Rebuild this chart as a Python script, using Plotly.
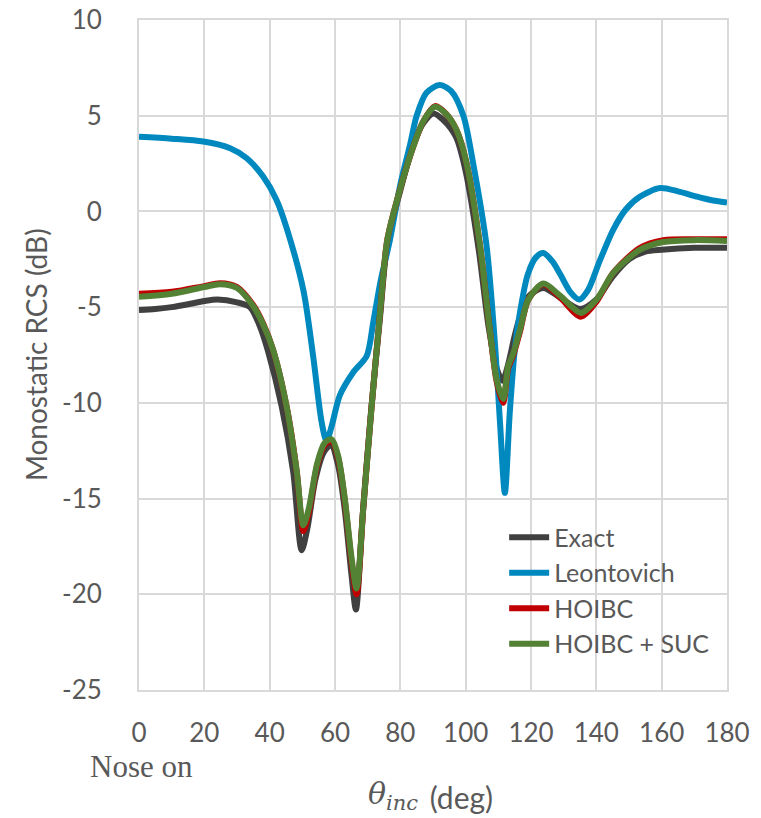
import plotly.graph_objects as go

# ---- data ----
exact_x = [0, 5, 10, 15, 20, 24, 30, 34, 37, 39.5, 43.7, 47.2, 49.8, 51.5, 54, 56.5, 58.8, 61, 63, 65, 66.4,
           68.5, 71, 73.8, 76, 80, 84, 87, 90.1, 93, 97, 100, 104, 107, 109.5, 111.3, 113, 115, 117, 119.5,
           123.8, 128.9, 135, 140, 145, 150, 155, 160, 170, 180]
exact_y = [-5.15, -5.1, -5.0, -4.85, -4.68, -4.6, -4.75, -5.0, -6.0, -7.3, -10.2, -13.6, -17.7, -16.6, -14.0, -12.6,
           -12.2, -13.3, -15.6, -18.9, -20.8, -15.8, -10.5, -5.5, -1.7, 1.1, 3.5, 4.6, 5.12, 4.8, 3.9, 2.1, -2.0,
           -6.0, -8.2, -8.85, -8.0, -6.5, -5.3, -4.4, -4.0, -4.5, -5.1, -4.6, -3.4, -2.5, -2.1, -2.0, -1.9, -1.9]

leon_x = [0, 10, 19.7, 27.9, 33, 38, 42.1, 45.2, 50.3, 53.3, 55.9, 57.4, 59, 61.5, 65.6, 69.7, 71.7, 74, 76.8,
          80, 83, 85, 88, 92, 95.5, 99.3, 102.3, 106.4, 109, 110.5, 112, 113.5, 115, 116.6, 119, 121.5, 123.8,
          126.5, 129, 132, 134.8, 137.5, 141, 145.2, 149, 153.4, 159.5, 165, 170.7, 175, 180]
leon_y = [3.9, 3.8, 3.65, 3.3, 2.78, 1.82, 0.6, -0.87, -4.1, -7.55, -11.0, -12.0, -11.2, -9.6, -8.4, -7.55, -5.8,
          -3.6, -1.5, 1.4, 3.5, 5.0, 6.2, 6.6, 6.3, 5.0, 2.5, -1.8, -7.0, -11.0, -14.7, -10.5, -7.3, -5.3, -3.3,
          -2.4, -2.17, -2.6, -3.3, -4.2, -4.6, -4.1, -2.6, -0.95, 0.1, 0.78, 1.22, 1.05, 0.78, 0.6, 0.47]

hoibc_x = [0, 10, 20, 24.8, 30, 35, 38, 41, 45.2, 48.3, 50.3, 52, 54.5, 56.8, 59, 61, 63, 65, 66.6, 68.7,
           71.2, 73.8, 76, 80, 84, 87, 90.6, 94, 97.2, 100.3, 104.4, 107.4, 109.5, 111.5, 113, 114.6, 116.6,
           119.2, 123.8, 128.9, 135.3, 140.1, 145.2, 153.4, 160.5, 170, 180]
hoibc_y = [-4.3, -4.2, -3.9, -3.75, -3.95, -4.9, -5.85, -7.2, -10.2, -13.6, -16.7, -15.7, -13.3, -12.2, -12.0,
           -12.9, -15.1, -18.2, -20.0, -15.4, -10.2, -5.3, -1.5, 1.2, 3.4, 4.7, 5.5, 5.1, 4.25, 2.5, -1.8, -6.2,
           -8.9, -10.0, -8.2, -7.5, -6.3, -4.6, -3.8, -4.5, -5.5, -4.7, -3.2, -1.9, -1.5, -1.45, -1.45]

suc_x = [0, 10, 20, 24.8, 30, 35, 38, 41, 45.2, 48.3, 50.3, 52, 54.5, 56.8, 59, 61, 63, 65, 66.6, 68.7,
         71.2, 73.8, 76, 80, 84, 87, 90.6, 94, 97.2, 100.3, 104.4, 107.4, 109.5, 111.5, 113, 114.6, 116.6,
         119.2, 123.8, 128.9, 135.3, 140.1, 145.2, 153.4, 160.5, 170, 180]
suc_y = [-4.46, -4.3, -3.95, -3.8, -4.0, -4.95, -5.9, -7.2, -10.2, -13.6, -16.4, -15.5, -13.2, -12.1, -11.9,
         -12.8, -15.0, -18.0, -19.7, -15.4, -10.2, -5.3, -1.5, 1.2, 3.4, 4.7, 5.47, 5.1, 4.25, 2.5, -1.8, -6.2,
         -8.8, -9.8, -8.1, -7.4, -6.2, -4.6, -3.77, -4.4, -5.3, -4.6, -3.2, -2.0, -1.6, -1.5, -1.55]

names = ["Exact", "Leontovich", "HOIBC", "HOIBC + SUC"]
colors = ["#404040", "#0089BF", "#C00000", "#548235"]
x_ticks = [0, 20, 40, 60, 80, 100, 120, 140, 160, 180]
y_ticks = [10, 5, 0, -5, -10, -15, -20, -25]

series = [(exact_x, exact_y), (leon_x, leon_y), (hoibc_x, hoibc_y), (suc_x, suc_y)]

fig = go.Figure()
for (xs, ys), name, col in zip(series, names, colors):
    fig.add_trace(go.Scatter(x=xs, y=ys, name=name, mode="lines",
                             line=dict(color=col, width=6, shape="spline", smoothing=0.8)))

grey = "#595959"
fig.update_layout(
    width=761, height=818,
    margin=dict(l=131, r=42, t=12, b=136),
    paper_bgcolor="white", plot_bgcolor="white",
    showlegend=True,
    legend=dict(x=0.621, y=0.262, xanchor="left", yanchor="top",
                font=dict(family="Lato", size=25, color=grey),
                bgcolor="rgba(0,0,0,0)", tracegroupgap=0, itemwidth=40),
    xaxis=dict(range=[0, 180], tickvals=x_ticks, ticktext=[str(v) for v in x_ticks],
               showgrid=True, gridcolor="#d9d9d9", gridwidth=2, automargin=False,
               zeroline=False, showline=True, mirror=True, linecolor="#d9d9d9", linewidth=2,
               tickfont=dict(family="Lato", size=26, color=grey), ticklabelstandoff=19,
               ticklabeloverflow="allow"),
    yaxis=dict(range=[-25, 10], tickvals=y_ticks, ticktext=[str(v) for v in y_ticks],
               showgrid=True, gridcolor="#d9d9d9", gridwidth=2, automargin=False,
               zeroline=False, showline=True, mirror=True, linecolor="#d9d9d9", linewidth=2,
               tickfont=dict(family="Lato", size=26, color=grey), ticklabelstandoff=30,
               ticklabeloverflow="allow"),
    annotations=[
        dict(text="Monostatic RCS (dB)", x=-0.175, y=0.5, xref="paper", yref="paper",
             textangle=-90, showarrow=False, xanchor="center", yanchor="middle",
             font=dict(family="Lato", size=28, color=grey)),
        dict(text="<i>θ</i><sub><i>inc</i></sub>", x=0.478, y=-0.158, xref="paper", yref="paper",
             showarrow=False, xanchor="right", yanchor="middle",
             font=dict(family="DejaVu Serif", size=30, color=grey)),
        dict(text=" (deg)", x=0.478, y=-0.16, xref="paper", yref="paper",
             showarrow=False, xanchor="left", yanchor="middle",
             font=dict(family="Lato", size=30, color=grey)),
        dict(text="Nose on", x=-0.087, y=-0.114, xref="paper", yref="paper",
             showarrow=False, xanchor="left", yanchor="middle",
             font=dict(family="Liberation Serif", size=31, color=grey)),
    ],
)

fig.write_html("out.html")
